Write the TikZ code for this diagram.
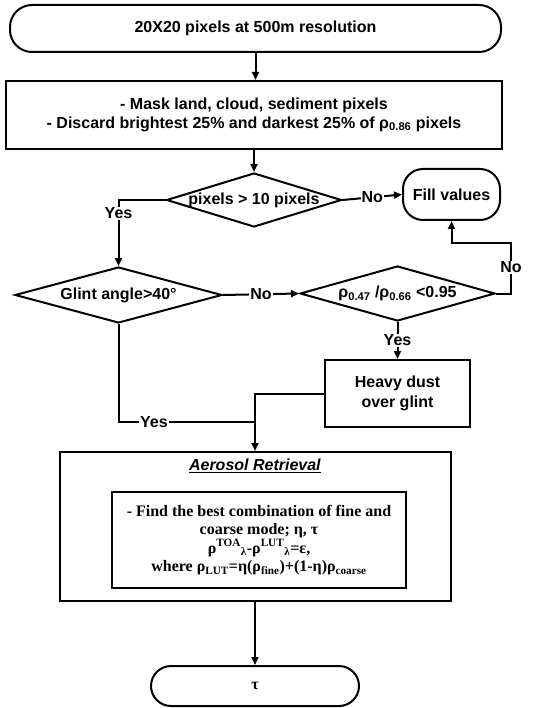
\documentclass[tikz,border=0pt]{standalone}
\usepackage{fontspec}
\setmainfont{Liberation Sans}
\newfontfamily\serifb{Liberation Serif}
\usetikzlibrary{shapes.geometric,arrows.meta}
\begin{document}
\begin{tikzpicture}[x=1pt,y=-1pt,
  line width=2pt,
  sansf/.style={font=\bfseries\fontsize{16}{18}\selectfont},
  arr/.style={-{Triangle[length=8pt,width=7pt]}},
  term/.style={draw, sansf, inner sep=0pt, align=center},
  box/.style={draw, sansf, inner sep=0pt, align=center},
  dia/.style={draw, diamond, inner sep=0pt},
  dtext/.style={sansf, inner sep=0pt},
  lab/.style={fill=white, sansf, inner sep=1pt}]
\useasboundingbox (0,0) rectangle (532,708);

\node[term, rounded corners=22pt, minimum width=491pt, minimum height=47pt] (top) at (255.5,28.5) {20X20 pixels at 500m resolution};
\node[box, minimum width=496pt, minimum height=68pt, font=\bfseries\fontsize{16}{18.5}\selectfont] (mask) at (254,115)
  {- Mask land, cloud, sediment pixels\\- Discard brightest 25\% and darkest 25\% of ρ\textsubscript{0.86} pixels};
\node[dia, minimum width=175pt, minimum height=54pt, label={[dtext]center:pixels > 10 pixels}] (p) at (254,200) {};
\node[term, rounded corners=20pt, minimum width=97pt, minimum height=51pt] (f) at (451.5,194.5) {Fill values};
\node[dia, minimum width=207pt, minimum height=56pt, label={[dtext]center:Glint angle>40°}] (g) at (118.5,295) {};
\node[dia, minimum width=195pt, minimum height=55pt, label={[dtext]center:ρ\textsubscript{0.47} /ρ\textsubscript{0.66} <0.95}] (r) at (397.5,293.5) {};
\node[box, minimum width=145pt, minimum height=67pt, font=\bfseries\fontsize{16}{20}\selectfont] (h) at (397.5,393.5) {Heavy dust\\over glint};
\node[draw, minimum width=391pt, minimum height=149pt] (a) at (255,526.5) {};
\node[sansf, inner sep=0pt] (title) at (255,466) {\underline{\textit{Aerosol Retrieval}}};
\node[draw, inner sep=0pt, minimum width=294pt, minimum height=96pt, align=center,
  font=\serifb\bfseries\fontsize{16}{18.5}\selectfont] (in) at (259,540)
  {- Find the best combination of fine and\\coarse mode; η, τ\\
   ρ\textsuperscript{TOA}\textsubscript{λ}-ρ\textsuperscript{LUT}\textsubscript{λ}=ε,\\
   where ρ\textsubscript{LUT}=η(ρ\textsubscript{fine})+(1-η)ρ\textsubscript{coarse}};
\node[term, rounded corners=20pt, minimum width=208pt, minimum height=40pt, font=\serifb\bfseries\fontsize{16}{18}\selectfont] (tau) at (255,686) {τ};

\coordinate (c1) at (511,243);
\coordinate (j) at (255,422);

\draw[arr] (top.south) -- (top.south |- mask.north);
\draw[arr] (mask.south) -- (p.north);
\draw[arr] (p.east) -- node[lab]{No} (f.west);
\draw[arr] (p.west) -| node[lab, pos=0.6]{Yes} (g.north);
\draw[arr] (g.east) -- node[lab]{No} (r.west);
\draw[arr] (r.east) -| node[lab, pos=0.76]{No} (c1) -| (f.south);
\draw[arr] (r.south) -- node[lab]{Yes} (h.north);
\draw (g.south) |- node[lab, pos=0.63]{Yes} (j);
\draw[arr] (h.west) -| (a.north);
\draw[arr] (a.south) -- (tau.north);
\end{tikzpicture}
\end{document}
